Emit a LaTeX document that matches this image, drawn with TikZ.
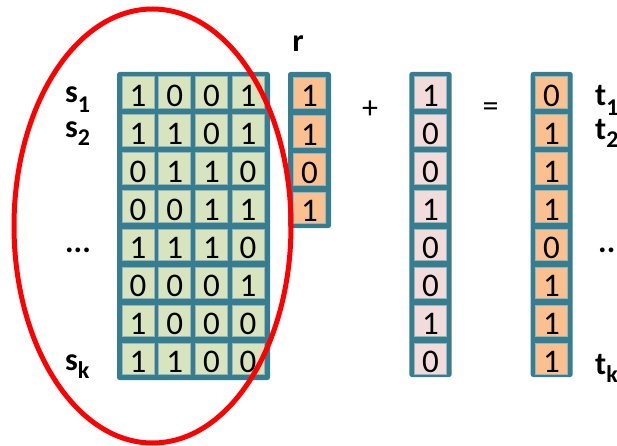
\documentclass[tikz,border=0pt]{standalone}
\usepackage{fontspec}
\setmainfont{Carlito}
\begin{document}
\definecolor{frameteal}{RGB}{54,125,143}
\definecolor{cellgreen}{RGB}{215,228,189}
\definecolor{cellorange}{RGB}{250,192,144}
\definecolor{cellpink}{RGB}{242,220,219}
\definecolor{cellline}{RGB}{150,182,188}
\newcommand\sublbl[3]{#1\raisebox{-#3pt}{\fontsize{24}{24}\selectfont #2}}
\begin{tikzpicture}[x=1pt,y=-1pt,
  frame/.style={fill=frameteal, rounded corners=2.5pt},
  cell/.style={draw=cellline, line width=0.6pt, minimum width=32pt, minimum height=31.5pt,
    inner sep=0pt, text height=28pt, text depth=0pt,
    font=\fontsize{33}{33}\selectfont},
  gcell/.style={cell, fill=cellgreen},
  ocell/.style={cell, fill=cellorange},
  pcell/.style={cell, fill=cellpink},
  lbl/.style={anchor=base west, inner sep=0pt, font=\fontsize{32}{32}\selectfont\bfseries},
  op/.style={inner sep=0pt, font=\fontsize{32}{32}\selectfont},
  ring/.style={draw=red, line width=5pt}]
\useasboundingbox (0,0) rectangle (617,446);

% frames behind the cells
\fill[frame] (117,72) rectangle (270,380);
\fill[frame] (288,72) rectangle (331,228);
\fill[frame] (409.3,72) rectangle (451.7,377);
\fill[frame] (530.7,72) rectangle (572.7,377);

% the matrix s_1 ... s_k
\foreach \row [count=\i] in {{1,0,0,1},{1,1,0,1},{0,1,1,0},{0,0,1,1},{1,1,1,0},{0,0,0,1},{1,0,0,0},{1,1,0,0}} {
  \foreach \v [count=\j] in \row {
    \node[gcell] (m-\i-\j) at ({138+36.7*(\j-1)},{92.2+38.1*(\i-1)}) {\v};
  }
}

% the vector r
\foreach \v [count=\i] in {1,1,0,1}
  \node[ocell] (r-\i) at (309.5,{92.8+38.3*(\i-1)}) {\v};

% the added vector
\foreach \v [count=\i] in {1,0,0,1,0,0,1,0}
  \node[pcell] (a-\i) at (430.5,{92.2+38.1*(\i-1)}) {\v};

% the result t_1 ... t_k
\foreach \v [count=\i] in {0,1,1,1,0,1,1,1}
  \node[ocell] (t-\i) at (551.5,{92.2+38.1*(\i-1)}) {\v};

% operators
\node[op] (plus) at (370,110) {+};
\node[op] (eq) at (490.7,110) {=};

% labels
\node[lbl, anchor=base] (rlbl) at (298,52) {r};
\node[lbl] (s1) at (65,103) {\sublbl{s}{1}{10}};
\node[lbl] (s2) at (65,138) {\sublbl{s}{2}{8}};
\node[lbl] (sdots) at (65,252) {...};
\node[lbl] (sk) at (65,370) {\sublbl{s}{k}{8}};
\node[lbl] (t1) at (595,106) {\sublbl{t}{1}{10}};
\node[lbl] (t2) at (595,140) {\sublbl{t}{2}{8}};
\node[lbl] (tdots) at (598,252) {...};
\node[lbl] (tk) at (595,374) {\sublbl{t}{k}{8}};

% red ring around the rows of the matrix
\draw[ring] (152.5,226) ellipse [x radius=138.5, y radius=217];
\end{tikzpicture}
\end{document}
